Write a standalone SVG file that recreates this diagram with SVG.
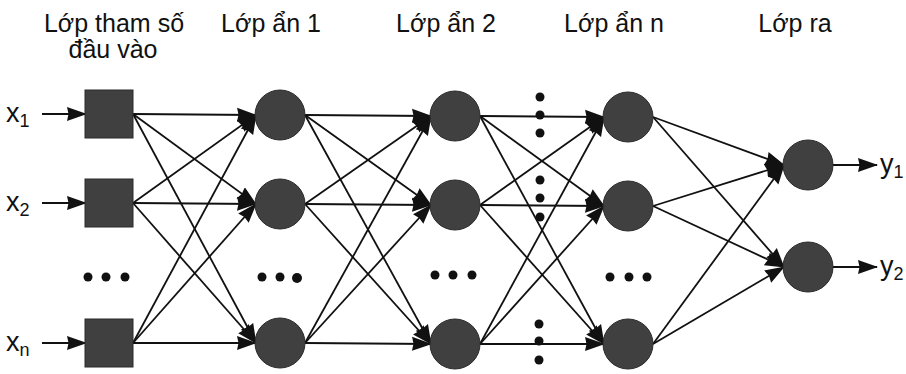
<svg xmlns="http://www.w3.org/2000/svg" width="906" height="374" viewBox="0 0 906 374">
  <style>
    .lbl { font-family: "Liberation Sans", Arial, sans-serif; font-size: 25px; fill: #111; }
    .big { font-size: 27px; }
    .sub { font-size: 18px; }
    .edge { stroke: #111; stroke-width: 1.8; fill: none; marker-end: url(#arrow); }
    .node { fill: #404040; stroke: #2a2a2a; stroke-width: 1; }
    .dot { fill: #111; }
  </style>
  <defs>
    <marker id="arrow" markerUnits="userSpaceOnUse" markerWidth="21" markerHeight="16" refX="19" refY="8" orient="auto">
      <path d="M0,1 L20,8 L0,15 L1.5,8 z" fill="#111"/>
    </marker>
  </defs>

  <!-- layer headings -->
  <g id="headings">
    <text class="lbl" x="114" y="32" text-anchor="middle">Lớp tham số</text>
    <text class="lbl" x="113" y="58" text-anchor="middle">đầu vào</text>
    <text class="lbl" x="271" y="32" text-anchor="middle">Lớp ẩn 1</text>
    <text class="lbl" x="446" y="32" text-anchor="middle">Lớp ẩn 2</text>
    <text class="lbl" x="614" y="32" text-anchor="middle">Lớp ẩn n</text>
    <text class="lbl" x="795" y="32" text-anchor="middle">Lớp ra</text>
  </g>

  <!-- connectors -->
  <g id="connectors">
    <!-- inputs into the input layer -->
    <line class="edge" x1="42" y1="114" x2="86" y2="114"/>
    <line class="edge" x1="42" y1="203" x2="86" y2="203"/>
    <line class="edge" x1="42" y1="343" x2="86" y2="343"/>
    <!-- input layer -> hidden 1 -->
    <line class="edge" x1="133" y1="114" x2="256" y2="115"/>
    <line class="edge" x1="133" y1="114" x2="256" y2="204"/>
    <line class="edge" x1="133" y1="114" x2="256" y2="343"/>
    <line class="edge" x1="133" y1="203" x2="256" y2="115"/>
    <line class="edge" x1="133" y1="203" x2="256" y2="204"/>
    <line class="edge" x1="133" y1="203" x2="256" y2="343"/>
    <line class="edge" x1="133" y1="343" x2="256" y2="115"/>
    <line class="edge" x1="133" y1="343" x2="256" y2="204"/>
    <line class="edge" x1="133" y1="343" x2="256" y2="343"/>
    <!-- hidden 1 -> hidden 2 -->
    <line class="edge" x1="305" y1="115" x2="431" y2="116"/>
    <line class="edge" x1="305" y1="115" x2="431" y2="205"/>
    <line class="edge" x1="305" y1="115" x2="431" y2="344"/>
    <line class="edge" x1="305" y1="204" x2="431" y2="116"/>
    <line class="edge" x1="305" y1="204" x2="431" y2="205"/>
    <line class="edge" x1="305" y1="204" x2="431" y2="344"/>
    <line class="edge" x1="305" y1="343" x2="431" y2="116"/>
    <line class="edge" x1="305" y1="343" x2="431" y2="205"/>
    <line class="edge" x1="305" y1="343" x2="431" y2="344"/>
    <!-- hidden 2 -> hidden n -->
    <line class="edge" x1="480" y1="116" x2="604" y2="117"/>
    <line class="edge" x1="480" y1="116" x2="604" y2="206"/>
    <line class="edge" x1="480" y1="116" x2="604" y2="344"/>
    <line class="edge" x1="480" y1="205" x2="604" y2="117"/>
    <line class="edge" x1="480" y1="205" x2="604" y2="206"/>
    <line class="edge" x1="480" y1="205" x2="604" y2="344"/>
    <line class="edge" x1="480" y1="344" x2="604" y2="117"/>
    <line class="edge" x1="480" y1="344" x2="604" y2="206"/>
    <line class="edge" x1="480" y1="344" x2="604" y2="344"/>
    <!-- hidden n -> output -->
    <line class="edge" x1="653" y1="117" x2="784" y2="165"/>
    <line class="edge" x1="653" y1="117" x2="784" y2="267"/>
    <line class="edge" x1="653" y1="206" x2="784" y2="165"/>
    <line class="edge" x1="653" y1="206" x2="784" y2="267"/>
    <line class="edge" x1="653" y1="344" x2="784" y2="165"/>
    <line class="edge" x1="653" y1="344" x2="784" y2="267"/>
    <!-- outputs -->
    <line class="edge" x1="833" y1="165" x2="877" y2="165"/>
    <line class="edge" x1="833" y1="267" x2="877" y2="267"/>
  </g>

  <!-- input labels -->
  <g id="input-labels">
    <text class="lbl big" x="6" y="122">x<tspan class="sub" dy="5">1</tspan></text>
    <text class="lbl big" x="6" y="211">x<tspan class="sub" dy="5">2</tspan></text>
    <text class="lbl big" x="6" y="351">x<tspan class="sub" dy="5">n</tspan></text>
  </g>

  <!-- input layer -->
  <g id="in1"><rect class="node" x="85" y="90" width="48" height="48"/></g>
  <g id="in2"><rect class="node" x="85" y="179" width="48" height="48"/></g>
  <g id="inN"><rect class="node" x="85" y="319" width="48" height="48"/></g>

  <!-- hidden layer 1 -->
  <g id="h1a"><circle class="node" cx="280" cy="115" r="25"/></g>
  <g id="h1b"><circle class="node" cx="280" cy="204" r="25"/></g>
  <g id="h1n"><circle class="node" cx="280" cy="343" r="25"/></g>

  <!-- hidden layer 2 -->
  <g id="h2a"><circle class="node" cx="455" cy="116" r="25"/></g>
  <g id="h2b"><circle class="node" cx="455" cy="205" r="25"/></g>
  <g id="h2n"><circle class="node" cx="455" cy="344" r="25"/></g>

  <!-- hidden layer n -->
  <g id="hna"><circle class="node" cx="628" cy="117" r="25"/></g>
  <g id="hnb"><circle class="node" cx="628" cy="206" r="25"/></g>
  <g id="hnn"><circle class="node" cx="628" cy="344" r="25"/></g>

  <!-- output layer -->
  <g id="out1"><circle class="node" cx="808" cy="165" r="25"/></g>
  <g id="out2"><circle class="node" cx="808" cy="267" r="25"/></g>

  <!-- output labels -->
  <g id="output-labels">
    <text class="lbl big" x="880" y="173">y<tspan class="sub" dy="5">1</tspan></text>
    <text class="lbl big" x="880" y="275">y<tspan class="sub" dy="5">2</tspan></text>
  </g>

  <!-- ellipsis dots -->
  <g id="ellipses">
    <circle class="dot" cx="88" cy="277" r="4.5"/>
    <circle class="dot" cx="106" cy="277" r="4.5"/>
    <circle class="dot" cx="125" cy="277" r="4.5"/>
    <circle class="dot" cx="262" cy="277" r="4.5"/>
    <circle class="dot" cx="280" cy="277" r="4.5"/>
    <circle class="dot" cx="297" cy="278" r="5"/>
    <circle class="dot" cx="435" cy="275" r="4.5"/>
    <circle class="dot" cx="453" cy="275" r="4.5"/>
    <circle class="dot" cx="472" cy="275" r="4.5"/>
    <circle class="dot" cx="610" cy="277" r="4.5"/>
    <circle class="dot" cx="629" cy="277" r="4.5"/>
    <circle class="dot" cx="647" cy="277" r="4.5"/>
    <circle class="dot" cx="540" cy="97" r="4.5"/>
    <circle class="dot" cx="540" cy="115" r="4.5"/>
    <circle class="dot" cx="540" cy="133" r="4.5"/>
    <circle class="dot" cx="540" cy="180" r="4.5"/>
    <circle class="dot" cx="540" cy="198" r="4.5"/>
    <circle class="dot" cx="540" cy="217" r="4.5"/>
    <circle class="dot" cx="539" cy="324" r="4.5"/>
    <circle class="dot" cx="539" cy="341" r="4.5"/>
    <circle class="dot" cx="539" cy="360" r="4.5"/>
  </g>
</svg>
